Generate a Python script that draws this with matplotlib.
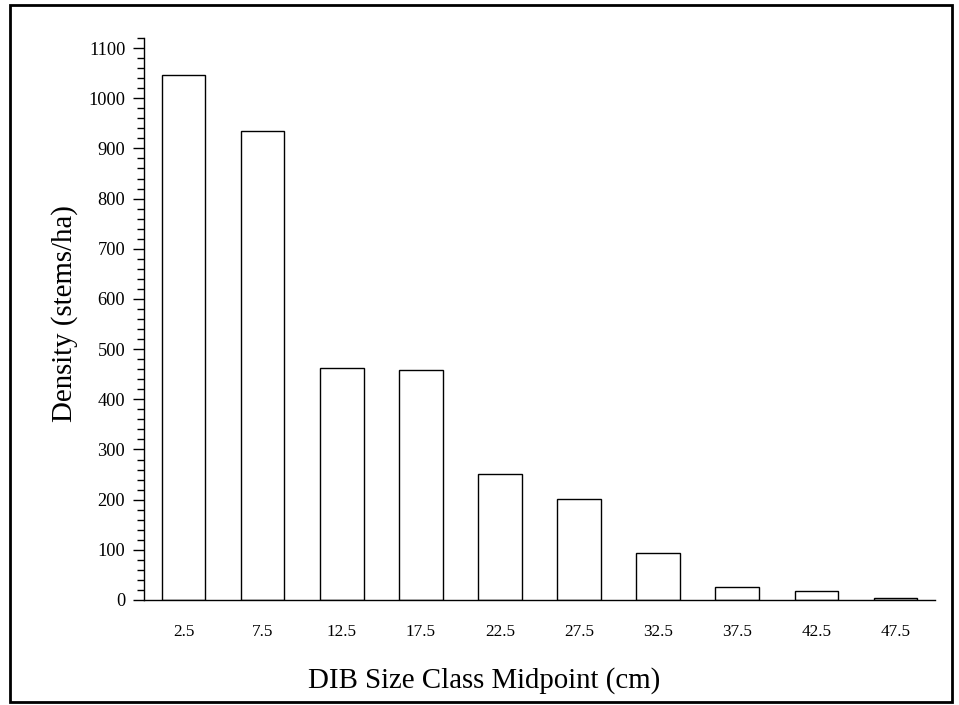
import matplotlib.pyplot as plt
from matplotlib.patches import Rectangle
from matplotlib.ticker import MultipleLocator

size_classes = ["2.5", "7.5", "12.5", "17.5", "22.5", "27.5", "32.5", "37.5", "42.5", "47.5"]
density = [1047, 935, 463, 459, 251, 201, 93, 26, 18, 4]

plt.rcParams["font.family"] = ["Liberation Serif", "DejaVu Serif"]

W, H = 959, 705
fig = plt.figure(figsize=(W / 100, H / 100), dpi=100)
ax = fig.add_axes([144 / W, 1 - 600 / H, (935 - 144) / W, (600 - 38) / H])

x = list(range(len(size_classes)))
ax.bar(x, density, width=0.55, color="white", edgecolor="black", linewidth=1.0)

ax.set_xlim(-0.5, 9.5)
ax.set_ylim(0, 1120)
ax.set_xticks(x)
ax.set_xticklabels(size_classes)
ax.yaxis.set_major_locator(MultipleLocator(100))
ax.yaxis.set_minor_locator(MultipleLocator(20))
ax.set_yticks(range(0, 1101, 100))

ax.tick_params(axis="x", length=0, pad=17, labelsize=12.3)
ax.tick_params(axis="y", which="major", length=8, width=1, pad=5.5, labelsize=13.2)
ax.tick_params(axis="y", which="minor", length=5, width=1)

for side in ("top", "right"):
    ax.spines[side].set_visible(False)
for side in ("left", "bottom"):
    ax.spines[side].set_linewidth(1.0)

# axis titles placed like the original (x title is not centred on the axes)
fig.text(484 / W, 1 - 688 / H, "DIB Size Class Midpoint (cm)", fontsize=20.8,
         ha="center", va="baseline")
fig.text(65 / W, 1 - 314 / H, "Density (stems/ha)", fontsize=20.8,
         rotation=90, ha="center", va="center")

# frame around whole figure
fig.patches.append(Rectangle((10 / W, 1 - 702 / H), 942 / W, 697 / H,
                             transform=fig.transFigure, fill=False,
                             edgecolor="black", linewidth=2))

fig.savefig("out.png", dpi=100)
